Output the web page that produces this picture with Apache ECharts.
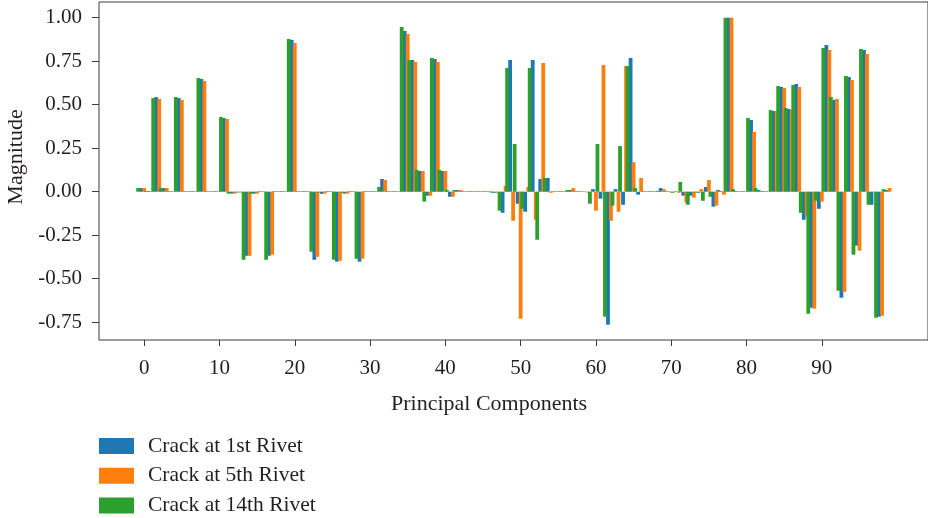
<!DOCTYPE html>
<html>
<head>
<meta charset="utf-8">
<title>Principal component magnitudes</title>
<script src="https://cdn.jsdelivr.net/npm/echarts@6/dist/echarts.min.js"></script>
<style>
  html, body { margin: 0; padding: 0; background: #ffffff; }
  #chart { width: 928px; height: 518px; }
</style>
</head>
<body>
<div id="chart"></div>
<script>
// Loading magnitude of each principal component (0..99) for the three crack locations.
const seriesNames = ['Crack at 1st Rivet', 'Crack at 5th Rivet', 'Crack at 14th Rivet'];

const rivet1Values = [
  0.021, 0.004, 0.544, 0.021, 0.003, 0.538, 0.003, 0.003, 0.648, 0.003,
  0.003, 0.423, -0.011, -0.004, -0.368, -0.011, 0.003, -0.368, 0.003, 0.003,
  0.872, 0.003, 0.003, -0.391, -0.012, 0.003, -0.402, -0.011, 0.003, -0.402,
  0.003, 0.003, 0.073, 0.003, 0.003, 0.923, 0.757, 0.119, -0.023, 0.762,
  0.119, -0.029, 0.010, 0.003, 0.003, 0.003, 0.003, -0.006, -0.121, 0.757,
  -0.069, -0.115, 0.757, 0.073, 0.079, 0.003, 0.003, 0.010, 0.003, 0.002,
  0.015, -0.040, -0.764, 0.015, -0.075, 0.768, -0.017, 0.003, 0.003, 0.021,
  0.003, 0.003, -0.023, -0.023, -0.006, 0.027, -0.086, 0.004, 1.000, 0.004,
  0.003, 0.412, 0.010, 0.003, 0.464, 0.602, 0.475, 0.619, -0.161, -0.667,
  -0.098, 0.843, 0.527, -0.609, 0.659, -0.310, 0.814, -0.075, -0.718, 0.010
];

const rivet5Values = [
  0.021, 0.003, 0.533, 0.021, 0.003, 0.527, 0.003, 0.003, 0.636, 0.003,
  0.003, 0.418, -0.011, -0.004, -0.368, -0.011, 0.003, -0.362, 0.003, 0.003,
  0.854, 0.003, 0.003, -0.374, -0.010, 0.003, -0.397, -0.011, 0.003, -0.385,
  0.003, 0.003, 0.067, 0.003, 0.003, 0.906, 0.745, 0.119, -0.023, 0.745,
  0.119, -0.029, 0.010, 0.003, 0.003, 0.003, 0.003, -0.006, 0.034, -0.167,
  -0.730, 0.027, -0.161, 0.739, -0.006, 0.003, 0.003, 0.021, 0.003, -0.006,
  -0.109, 0.728, -0.167, -0.115, 0.722, 0.170, 0.079, 0.003, 0.003, 0.015,
  -0.004, -0.006, -0.063, -0.034, 0.015, 0.067, -0.080, -0.017, 1.000, 0.002,
  0.003, 0.343, 0.004, 0.003, 0.464, 0.596, 0.469, 0.602, -0.138, -0.672,
  -0.057, 0.814, 0.533, -0.575, 0.642, -0.339, 0.791, -0.004, -0.713, 0.021
];

const rivet14Values = [
  0.021, 0.004, 0.538, 0.021, 0.003, 0.544, 0.003, 0.003, 0.653, 0.003,
  0.003, 0.429, -0.011, -0.004, -0.391, -0.011, 0.003, -0.391, 0.003, 0.003,
  0.877, 0.003, 0.003, -0.345, -0.005, 0.003, -0.391, -0.005, 0.003, -0.385,
  0.003, 0.003, 0.027, 0.003, 0.003, 0.946, 0.757, 0.125, -0.057, 0.768,
  0.125, 0.010, 0.010, 0.003, 0.003, 0.003, 0.003, -0.006, -0.109, 0.711,
  0.274, -0.098, 0.711, -0.276, 0.079, 0.003, 0.003, 0.010, 0.003, 0.002,
  -0.069, 0.274, -0.718, -0.080, 0.262, 0.722, 0.021, 0.003, 0.003, 0.005,
  0.003, -0.006, 0.056, -0.075, -0.004, -0.052, -0.029, 0.010, 1.000, 0.015,
  0.003, 0.423, 0.021, 0.003, 0.469, 0.607, 0.481, 0.613, -0.121, -0.701,
  -0.052, 0.826, 0.544, -0.569, 0.665, -0.362, 0.820, -0.075, -0.724, 0.015
];

const xTickValues = [0, 10, 20, 30, 40, 50, 60, 70, 80, 90];
const yTickValues = [-0.75, -0.50, -0.25, 0.00, 0.25, 0.50, 0.75, 1.00];

// ---- layout / style ----
const FONT = "'Liberation Serif', 'DejaVu Serif', serif";
const TEXT_COLOR = '#231f20';
const FRAME_COLOR = '#3a3a3a';
const COLORS = ['#1f77b4', '#ff7f0e', '#2ca02c'];
// Bar centre offsets (in component units) for each series within a group.
const OFFSETS = [-0.4, 0.0, -0.8];
const X_MIN = -6.0, X_MAX = 104.1;
const Y_MIN = -0.852, Y_MAX = 1.09;
const LEGEND_TOP = 435, LEGEND_STEP = 29.7;

const valueSets = [rivet1Values, rivet5Values, rivet14Values];

const chart = echarts.init(document.getElementById('chart'), null, { renderer: 'canvas' });

const xAxes = [0, 1, 2].map(k => ({
  type: 'value',
  gridIndex: 0,
  min: X_MIN,
  max: X_MAX,
  show: k === 0,
  position: 'bottom',
  axisLine: { show: false, onZero: false },
  splitLine: { show: false },
  axisTick: {
    show: true, length: 6, inside: false,
    customValues: xTickValues,
    lineStyle: { color: FRAME_COLOR, width: 1 }
  },
  axisLabel: {
    show: true, margin: 18,
    customValues: xTickValues,
    fontFamily: FONT, fontSize: 21, color: TEXT_COLOR
  }
}));

const series = valueSets.map((vals, k) => ({
  name: seriesNames[k],
  type: 'bar',
  xAxisIndex: k,
  yAxisIndex: 0,
  barWidth: 3.8,
  clip: false,
  z: 2 + (k === 0 ? 0 : 1),
  itemStyle: { color: COLORS[k] },
  emphasis: { disabled: true },
  data: vals.map((v, i) => [i + OFFSETS[k], v])
}));

// One legend block per series, stacked vertically under the axis title.
const legends = seriesNames.map((name, k) => ({
  data: [name],
  orient: 'vertical',
  left: 99,
  top: LEGEND_TOP + k * LEGEND_STEP,
  padding: 0,
  itemWidth: 35,
  itemHeight: 16,
  icon: 'rect',
  selectedMode: false,
  textStyle: {
    fontFamily: FONT, fontSize: 21.5, color: TEXT_COLOR,
    padding: [0, 0, 0, 9]
  }
}));

const option = {
  animation: false,
  backgroundColor: '#ffffff',
  grid: {
    left: 99, right: -10, top: 2, bottom: 178,
    show: true, borderColor: FRAME_COLOR, borderWidth: 1,
    backgroundColor: 'transparent'
  },
  xAxis: xAxes,
  yAxis: {
    type: 'value',
    min: Y_MIN,
    max: Y_MAX,
    position: 'left',
    axisLine: { show: false, onZero: false },
    splitLine: { show: false },
    axisTick: {
      show: true, length: 7,
      customValues: yTickValues,
      lineStyle: { color: FRAME_COLOR, width: 1 }
    },
    axisLabel: {
      show: true, margin: 17,
      customValues: yTickValues,
      formatter: v => Number(v).toFixed(2),
      fontFamily: FONT, fontSize: 21, color: TEXT_COLOR
    }
  },
  legend: legends,
  graphic: [
    {
      type: 'text',
      left: 391, top: 393,
      style: {
        text: 'Principal Components',
        font: "22px 'Liberation Serif', 'DejaVu Serif', serif",
        fill: TEXT_COLOR
      }
    },
    {
      type: 'text',
      x: 16, y: 157,
      rotation: Math.PI / 2,
      style: {
        text: 'Magnitude',
        font: "22px 'Liberation Serif', 'DejaVu Serif', serif",
        fill: TEXT_COLOR,
        align: 'center',
        verticalAlign: 'middle'
      }
    }
  ],
  series: series
};

chart.setOption(option);
</script>
</body>
</html>
